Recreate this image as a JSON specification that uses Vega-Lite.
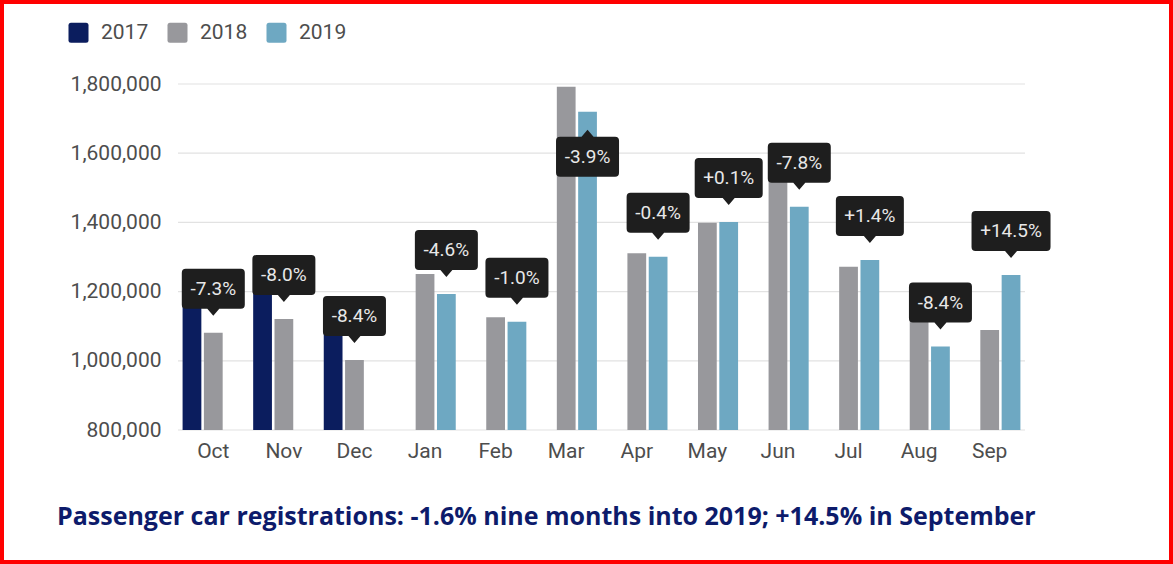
{
  "$schema": "https://vega.github.io/schema/vega-lite/v6.json",
  "width": 1173,
  "height": 564,
  "autosize": "none",
  "padding": 0,
  "background": "#ffffff",
  "config": {
    "view": {"stroke": "#ff0000", "strokeWidth": 8, "fill": "#ffffff"},
    "font": "Roboto"
  },
  "title": {
    "text": "Passenger car registrations: -1.6% nine months into 2019; +14.5% in September",
    "orient": "bottom",
    "frame": "group",
    "anchor": "start",
    "dx": 57,
    "offset": -47,
    "baseline": "middle",
    "font": "Open Sans",
    "fontSize": 25,
    "fontWeight": "bold",
    "color": "#0d1b6b"
  },
  "datasets": {
    "registrations": [
      {"month": "Oct", "year": "2017", "value": 1170000},
      {"month": "Oct", "year": "2018", "value": 1081000, "change": "-7.3%"},
      {"month": "Nov", "year": "2017", "value": 1214000},
      {"month": "Nov", "year": "2018", "value": 1121000, "change": "-8.0%"},
      {"month": "Dec", "year": "2017", "value": 1091000},
      {"month": "Dec", "year": "2018", "value": 1002000, "change": "-8.4%"},
      {"month": "Jan", "year": "2018", "value": 1251000},
      {"month": "Jan", "year": "2019", "value": 1193000, "change": "-4.6%"},
      {"month": "Feb", "year": "2018", "value": 1126000},
      {"month": "Feb", "year": "2019", "value": 1113000, "change": "-1.0%"},
      {"month": "Mar", "year": "2018", "value": 1792000},
      {"month": "Mar", "year": "2019", "value": 1720000, "change": "-3.9%"},
      {"month": "Apr", "year": "2018", "value": 1311000},
      {"month": "Apr", "year": "2019", "value": 1301000, "change": "-0.4%"},
      {"month": "May", "year": "2018", "value": 1399000},
      {"month": "May", "year": "2019", "value": 1401000, "change": "+0.1%"},
      {"month": "Jun", "year": "2018", "value": 1567000},
      {"month": "Jun", "year": "2019", "value": 1445000, "change": "-7.8%"},
      {"month": "Jul", "year": "2018", "value": 1272000},
      {"month": "Jul", "year": "2019", "value": 1291000, "change": "+1.4%"},
      {"month": "Aug", "year": "2018", "value": 1136000},
      {"month": "Aug", "year": "2019", "value": 1041000, "change": "-8.4%"},
      {"month": "Sep", "year": "2018", "value": 1089000},
      {"month": "Sep", "year": "2019", "value": 1248000, "change": "+14.5%"}
    ],
    "gridlines": [
      {"tick": 800000}, {"tick": 1000000}, {"tick": 1200000},
      {"tick": 1400000}, {"tick": 1600000}, {"tick": 1800000}
    ]
  },
  "layer": [
    {
      "data": {"name": "gridlines"},
      "mark": {"type": "rule", "color": "#e2e2e2", "strokeWidth": 1.2},
      "encoding": {
        "x": {"datum": 0, "type": "quantitative", "scale": {"domain": [0, 1], "range": [178, 1025]}, "axis": null},
        "x2": {"datum": 1},
        "y": {
          "field": "tick", "type": "quantitative",
          "scale": {"domain": [800000, 1800000], "range": [430, 84], "nice": false, "zero": false},
          "axis": {"orient": "left", "offset": -178, "title": null, "values": [800000, 1000000, 1200000, 1400000, 1600000, 1800000], "labelExpr": "format(datum.value, ',')", "labelPadding": 17, "ticks": false, "domain": false, "grid": false, "labelFont": "Roboto", "labelFontSize": 21, "labelColor": "#4d4d4d"}
        }
      }
    },
    {
      "data": {"name": "registrations"},
      "encoding": {
        "x": {
          "field": "month", "type": "nominal",
          "sort": ["Oct", "Nov", "Dec", "Jan", "Feb", "Mar", "Apr", "May", "Jun", "Jul", "Aug", "Sep"],
          "scale": {"range": [178, 1025], "paddingInner": 0.13, "paddingOuter": 0.065},
          "axis": {"orient": "bottom", "offset": -134, "title": null, "labelAngle": 0, "labelPadding": 10, "ticks": false, "domain": false, "grid": false, "labelFont": "Roboto", "labelFontSize": 21, "labelColor": "#4d4d4d"}
        },
        "xOffset": {"field": "year", "type": "nominal", "scale": {"domain": ["2017", "2018", "2019"], "paddingInner": 0.12}},
        "y": {
          "field": "value", "type": "quantitative",
          "scale": {"domain": [800000, 1800000], "range": [430, 84], "nice": false, "zero": false},
          "axis": {"orient": "left", "offset": -178, "title": null, "values": [800000, 1000000, 1200000, 1400000, 1600000, 1800000], "labelExpr": "format(datum.value, ',')", "labelPadding": 17, "ticks": false, "domain": false, "grid": false, "labelFont": "Roboto", "labelFontSize": 21, "labelColor": "#4d4d4d"}
        }
      },
      "layer": [
        {
          "mark": {"type": "bar"},
          "encoding": {
            "y2": {"datum": 800000},
            "color": {
              "field": "year", "type": "nominal",
              "scale": {"domain": ["2017", "2018", "2019"], "range": ["#0b1d5e", "#98989c", "#6ea8c2"]},
              "legend": {
                "orient": "none", "legendX": 68, "legendY": 22, "direction": "horizontal", "title": null,
                "padding": 0,
                "symbolType": "M-1,-0.75 Q-1,-1 -0.75,-1 L0.75,-1 Q1,-1 1,-0.75 L1,0.75 Q1,1 0.75,1 L-0.75,1 Q-1,1 -1,0.75 Z",
                "symbolSize": 400, "symbolStrokeWidth": 0, "symbolOpacity": 1,
                "labelFont": "Roboto", "labelFontSize": 21, "labelColor": "#4d4d4d",
                "labelOffset": 12, "columnPadding": 18
              }
            }
          }
        },
        {
          "transform": [{"filter": "isValid(datum.change)"}],
          "mark": {"type": "point", "filled": true, "size": 4, "opacity": 1, "color": "#1e1e1e", "strokeWidth": 0},
          "encoding": {
            "shape": {
              "condition": [
                {"test": "datum.month === 'Mar'", "value": "M-27.5,25 L-6,25 L0,18 L6,25 L27.5,25 Q31.5,25 31.5,29 L31.5,61 Q31.5,65 27.5,65 L-27.5,65 Q-31.5,65 -31.5,61 L-31.5,29 Q-31.5,25 -27.5,25 Z"},
                {"test": "length(datum.change) > 5", "value": "M-35.5,-64 L35.5,-64 Q39.5,-64 39.5,-60 L39.5,-28 Q39.5,-24 35.5,-24 L6,-24 L0,-17 L-6,-24 L-35.5,-24 Q-39.5,-24 -39.5,-28 L-39.5,-60 Q-39.5,-64 -35.5,-64 Z"},
                {"test": "indexof(datum.change, '+') === 0", "value": "M-30,-64 L30,-64 Q34,-64 34,-60 L34,-28 Q34,-24 30,-24 L6,-24 L0,-17 L-6,-24 L-30,-24 Q-34,-24 -34,-28 L-34,-60 Q-34,-64 -30,-64 Z"}
              ],
              "value": "M-27.5,-64 L27.5,-64 Q31.5,-64 31.5,-60 L31.5,-28 Q31.5,-24 27.5,-24 L6,-24 L0,-17 L-6,-24 L-27.5,-24 Q-31.5,-24 -31.5,-28 L-31.5,-60 Q-31.5,-64 -27.5,-64 Z"
            }
          }
        },
        {
          "transform": [{"filter": "isValid(datum.change) && datum.month !== 'Mar'"}],
          "mark": {"type": "text", "dy": -44, "fontSize": 19, "font": "Roboto", "color": "#e8e8e8", "baseline": "middle", "align": "center"},
          "encoding": {"text": {"field": "change", "type": "nominal"}}
        },
        {
          "transform": [{"filter": "isValid(datum.change) && datum.month === 'Mar'"}],
          "mark": {"type": "text", "dy": 45, "fontSize": 19, "font": "Roboto", "color": "#e8e8e8", "baseline": "middle", "align": "center"},
          "encoding": {"text": {"field": "change", "type": "nominal"}}
        }
      ]
    }
  ],
  "resolve": {"scale": {"x": "independent"}, "axis": {"x": "independent"}}
}
